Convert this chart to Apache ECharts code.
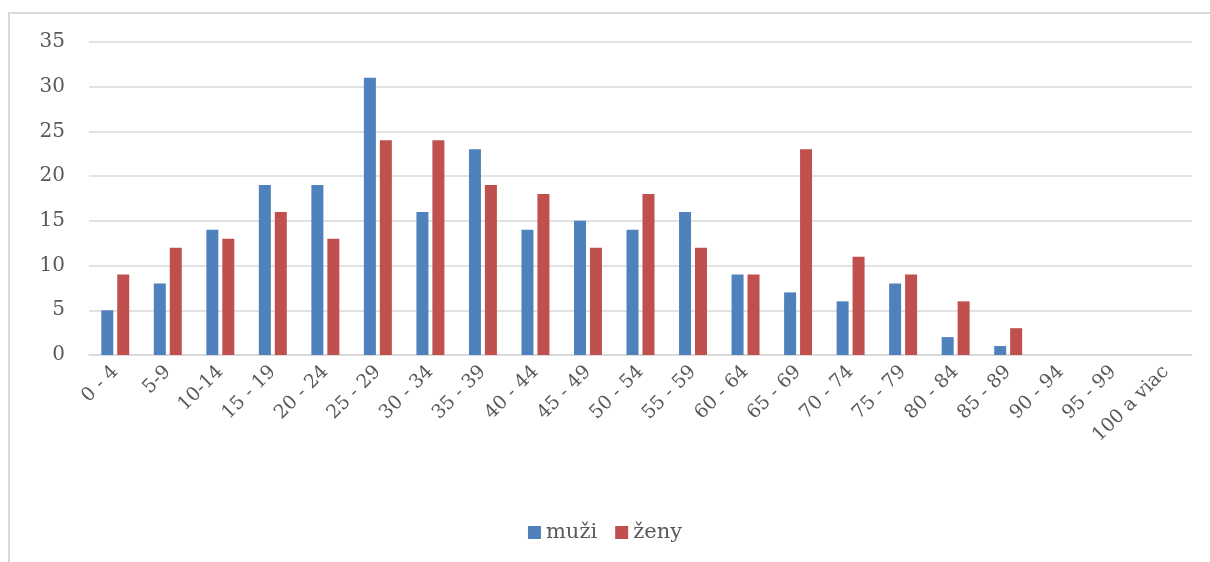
<!DOCTYPE html>
<html>
<head>
<meta charset="utf-8">
<script src="https://cdn.jsdelivr.net/npm/echarts@6/dist/echarts.min.js"></script>
<style>
  html, body { margin: 0; padding: 0; background: #fff; }
  #chart { width: 1210px; height: 562px; }
</style>
</head>
<body>
<div id="chart"></div>
<script>
// vekove skupiny
const categories = ['0 - 4', '5-9', '10-14', '15 - 19', '20 - 24', '25 - 29', '30 - 34', '35 - 39',
    '40 - 44', '45 - 49', '50 - 54', '55 - 59', '60 - 64', '65 - 69', '70 - 74', '75 - 79',
    '80 - 84', '85 - 89', '90 - 94', '95 - 99', '100 a viac']
const muzi = [5, 8, 14, 19, 19, 31, 16, 23, 14, 15, 14, 16, 9, 7, 6, 8, 2, 1, 0, 0, 0]
const zeny = [9, 12, 13, 16, 13, 24, 24, 19, 18, 12, 18, 12, 9, 23, 11, 9, 6, 3, 0, 0, 0]
const seriesNames = ['muži', 'ženy']

const font = 'DejaVu Serif'
const textColor = '#595959'

let chart = echarts.init(document.getElementById('chart'))
let option = {
    animation: false,
    color: ['#4F81BD', '#C0504D'],
    graphic: [{
        type: 'rect',
        shape: { x: 9, y: 13, width: 1400, height: 700 },
        style: { fill: 'none', stroke: '#d9d9d9', lineWidth: 2 },
        silent: true
    }],
    grid: {
        left: 89,
        right: 18,
        top: 42,
        bottom: 207
    },
    legend: {
        data: seriesNames,
        bottom: 14,
        left: 'center',
        itemWidth: 13,
        itemHeight: 13,
        itemGap: 18,
        icon: 'rect',
        textStyle: { fontFamily: font, fontSize: 21, color: textColor }
    },
    xAxis: {
        type: 'category',
        data: categories,
        axisLine: { lineStyle: { color: '#d9d9d9', width: 1.5 } },
        axisTick: { show: false },
        axisLabel: {
            rotate: 45,
            interval: 0,
            margin: 14,
            fontFamily: font,
            fontSize: 19,
            color: textColor
        }
    },
    yAxis: {
        type: 'value',
        min: 0,
        max: 35,
        interval: 5,
        axisLine: { show: false },
        axisTick: { show: false },
        splitLine: { lineStyle: { color: '#d9d9d9', width: 1.5 } },
        axisLabel: {
            margin: 24,
            fontFamily: font,
            fontSize: 20,
            color: textColor
        }
    },
    series: [
        {
            name: seriesNames[0],
            type: 'bar',
            data: muzi,
            barWidth: 12,
            barGap: '33%'
        },
        {
            name: seriesNames[1],
            type: 'bar',
            data: zeny,
            barWidth: 12
        }
    ]
}
chart.setOption(option)
</script>
</body>
</html>
